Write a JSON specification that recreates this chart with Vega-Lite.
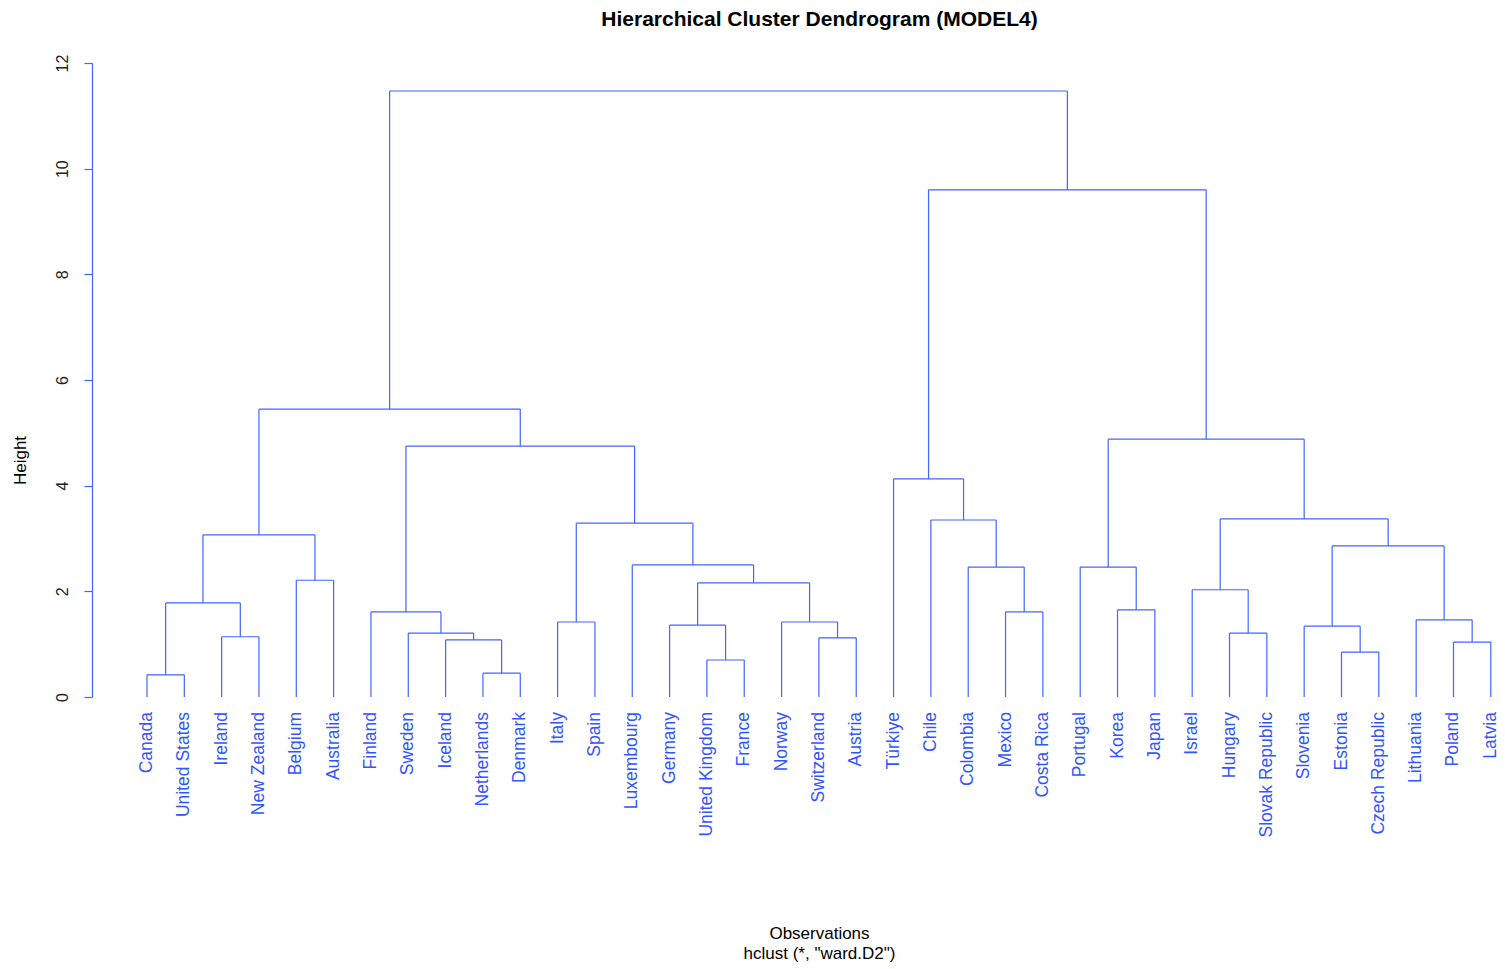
{
  "$schema": "https://vega.github.io/schema/vega-lite/v6.json",
  "autosize": {"type": "none"},
  "padding": {"left": 92, "top": 63, "right": 0, "bottom": 272},
  "width": 1413,
  "height": 634,
  "background": "white",
  "title": {
    "text": "Hierarchical Cluster Dendrogram (MODEL4)",
    "font": "Liberation Sans",
    "fontSize": 21,
    "fontWeight": "bold",
    "color": "#000000",
    "anchor": "middle",
    "frame": "group",
    "dx": 21,
    "dy": 29,
    "baseline": "alphabetic",
    "offset": 36
  },
  "datasets": {
    "merges": [
      {"id": "L1", "lx": 1, "rx": 2, "lh": 0, "rh": 0, "h": 0.42},
      {"id": "L2", "lx": 3, "rx": 4, "lh": 0, "rh": 0, "h": 1.14},
      {"id": "L3", "lx": 1.5, "rx": 3.5, "lh": 0.42, "rh": 1.14, "h": 1.78},
      {"id": "L4", "lx": 5, "rx": 6, "lh": 0, "rh": 0, "h": 2.21},
      {"id": "L5", "lx": 2.5, "rx": 5.5, "lh": 1.78, "rh": 2.21, "h": 3.07},
      {"id": "N1", "lx": 10, "rx": 11, "lh": 0, "rh": 0, "h": 0.45},
      {"id": "N2", "lx": 9, "rx": 10.5, "lh": 0, "rh": 0.45, "h": 1.08},
      {"id": "N3", "lx": 8, "rx": 9.75, "lh": 0, "rh": 1.08, "h": 1.21},
      {"id": "N4", "lx": 7, "rx": 8.875, "lh": 0, "rh": 1.21, "h": 1.61},
      {"id": "I1", "lx": 12, "rx": 13, "lh": 0, "rh": 0, "h": 1.42},
      {"id": "G1", "lx": 16, "rx": 17, "lh": 0, "rh": 0, "h": 0.70},
      {"id": "G2", "lx": 15, "rx": 16.5, "lh": 0, "rh": 0.70, "h": 1.36},
      {"id": "S1", "lx": 19, "rx": 20, "lh": 0, "rh": 0, "h": 1.12},
      {"id": "S2", "lx": 18, "rx": 19.5, "lh": 0, "rh": 1.12, "h": 1.42},
      {"id": "G3", "lx": 15.75, "rx": 18.75, "lh": 1.36, "rh": 1.42, "h": 2.16},
      {"id": "G4", "lx": 14, "rx": 17.25, "lh": 0, "rh": 2.16, "h": 2.50},
      {"id": "G5", "lx": 12.5, "rx": 15.625, "lh": 1.42, "rh": 2.50, "h": 3.29},
      {"id": "G6", "lx": 7.9375, "rx": 14.0625, "lh": 1.61, "rh": 3.29, "h": 4.75},
      {"id": "LEFT", "lx": 4, "rx": 11, "lh": 3.07, "rh": 4.75, "h": 5.45},
      {"id": "M1", "lx": 24, "rx": 25, "lh": 0, "rh": 0, "h": 1.61},
      {"id": "M2", "lx": 23, "rx": 24.5, "lh": 0, "rh": 1.61, "h": 2.46},
      {"id": "M3", "lx": 22, "rx": 23.75, "lh": 0, "rh": 2.46, "h": 3.35},
      {"id": "M4", "lx": 21, "rx": 22.875, "lh": 0, "rh": 3.35, "h": 4.13},
      {"id": "K1", "lx": 27, "rx": 28, "lh": 0, "rh": 0, "h": 1.65},
      {"id": "K2", "lx": 26, "rx": 27.5, "lh": 0, "rh": 1.65, "h": 2.46},
      {"id": "H1", "lx": 30, "rx": 31, "lh": 0, "rh": 0, "h": 1.21},
      {"id": "H2", "lx": 29, "rx": 30.5, "lh": 0, "rh": 1.21, "h": 2.03},
      {"id": "E1", "lx": 33, "rx": 34, "lh": 0, "rh": 0, "h": 0.85},
      {"id": "E2", "lx": 32, "rx": 33.5, "lh": 0, "rh": 0.85, "h": 1.34},
      {"id": "P1", "lx": 36, "rx": 37, "lh": 0, "rh": 0, "h": 1.04},
      {"id": "P2", "lx": 35, "rx": 36.5, "lh": 0, "rh": 1.04, "h": 1.46},
      {"id": "E3", "lx": 32.75, "rx": 35.75, "lh": 1.34, "rh": 1.46, "h": 2.86},
      {"id": "H3", "lx": 29.75, "rx": 34.25, "lh": 2.03, "rh": 2.86, "h": 3.37},
      {"id": "K3", "lx": 26.75, "rx": 32, "lh": 2.46, "rh": 3.37, "h": 4.88},
      {"id": "RIGHT", "lx": 21.9375, "rx": 29.375, "lh": 4.13, "rh": 4.88, "h": 9.60},
      {"id": "ROOT", "lx": 7.5, "rx": 25.65625, "lh": 5.45, "rh": 9.60, "h": 11.47}
    ],
    "leaves": [
      {"pos": 1, "country": "Canada"},
      {"pos": 2, "country": "United States"},
      {"pos": 3, "country": "Ireland"},
      {"pos": 4, "country": "New Zealand"},
      {"pos": 5, "country": "Belgium"},
      {"pos": 6, "country": "Australia"},
      {"pos": 7, "country": "Finland"},
      {"pos": 8, "country": "Sweden"},
      {"pos": 9, "country": "Iceland"},
      {"pos": 10, "country": "Netherlands"},
      {"pos": 11, "country": "Denmark"},
      {"pos": 12, "country": "Italy"},
      {"pos": 13, "country": "Spain"},
      {"pos": 14, "country": "Luxembourg"},
      {"pos": 15, "country": "Germany"},
      {"pos": 16, "country": "United Kingdom"},
      {"pos": 17, "country": "France"},
      {"pos": 18, "country": "Norway"},
      {"pos": 19, "country": "Switzerland"},
      {"pos": 20, "country": "Austria"},
      {"pos": 21, "country": "Türkiye"},
      {"pos": 22, "country": "Chile"},
      {"pos": 23, "country": "Colombia"},
      {"pos": 24, "country": "Mexico"},
      {"pos": 25, "country": "Costa Rica"},
      {"pos": 26, "country": "Portugal"},
      {"pos": 27, "country": "Korea"},
      {"pos": 28, "country": "Japan"},
      {"pos": 29, "country": "Israel"},
      {"pos": 30, "country": "Hungary"},
      {"pos": 31, "country": "Slovak Republic"},
      {"pos": 32, "country": "Slovenia"},
      {"pos": 33, "country": "Estonia"},
      {"pos": 34, "country": "Czech Republic"},
      {"pos": 35, "country": "Lithuania"},
      {"pos": 36, "country": "Poland"},
      {"pos": 37, "country": "Latvia"}
    ]
  },
  "layer": [
    {
      "data": {"name": "merges"},
      "mark": {"type": "rule", "color": "#4264ff", "strokeWidth": 1.2},
      "encoding": {
        "x": {
          "field": "lx", "type": "quantitative",
          "scale": {"domain": [-0.473, 37.38], "nice": false, "zero": false},
          "axis": {
            "labels": false,
            "domain": false,
            "ticks": false,
            "grid": false,
            "title": ["Observations", "hclust (*, \"ward.D2\")"],
            "titleFont": "Liberation Sans",
            "titleFontSize": 17,
            "titleFontWeight": "normal",
            "titleColor": "#000000",
            "titleX": 727,
            "titleY": 228,
            "titleAlign": "center",
            "titleBaseline": "top",
            "titleLineHeight": 20
          }
        },
        "x2": {"field": "rx"},
        "y": {
          "field": "h", "type": "quantitative",
          "scale": {"domain": [0, 12], "nice": false, "zero": false},
          "axis": {
            "values": [0, 2, 4, 6, 8, 10, 12],
            "labelAngle": 270,
            "labelAlign": "center",
            "labelBaseline": "bottom",
            "labelPadding": 14,
            "labelFont": "Liberation Sans",
            "labelFontSize": 16,
            "labelColor": "#222222",
            "domainColor": "#4264ff",
            "domainWidth": 1.2,
            "tickColor": "#4264ff",
            "tickWidth": 1.2,
            "tickSize": 8,
            "grid": false,
            "title": "Height",
            "titleFont": "Liberation Sans",
            "titleFontSize": 17,
            "titleFontWeight": "normal",
            "titleColor": "#000000",
            "titleAngle": 270,
            "titleX": -72,
            "titleY": 397,
            "titleAlign": "center",
            "titleBaseline": "middle"
          }
        }
      }
    },
    {
      "data": {"name": "merges"},
      "mark": {"type": "rule", "color": "#4264ff", "strokeWidth": 1.2},
      "encoding": {
        "x": {"field": "lx", "type": "quantitative"},
        "y": {"field": "lh", "type": "quantitative"},
        "y2": {"field": "h"}
      }
    },
    {
      "data": {"name": "merges"},
      "mark": {"type": "rule", "color": "#4264ff", "strokeWidth": 1.2},
      "encoding": {
        "x": {"field": "rx", "type": "quantitative"},
        "y": {"field": "rh", "type": "quantitative"},
        "y2": {"field": "h"}
      }
    },
    {
      "data": {"name": "leaves"},
      "mark": {
        "type": "text",
        "angle": 270,
        "align": "right",
        "baseline": "middle",
        "dx": -15,
        "font": "Liberation Sans",
        "fontSize": 17.5,
        "color": "#3355ff"
      },
      "encoding": {
        "x": {"field": "pos", "type": "quantitative"},
        "y": {"datum": 0, "type": "quantitative"},
        "text": {"field": "country", "type": "nominal"}
      }
    }
  ],
  "config": {"view": {"stroke": null}}
}
